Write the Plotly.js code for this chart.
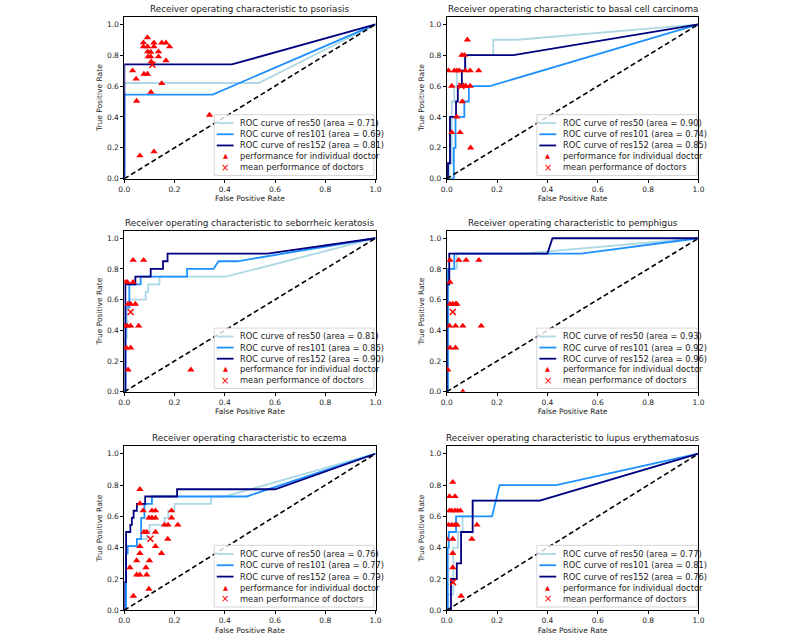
<!DOCTYPE html>
<html>
<head>
<meta charset="utf-8">
<script src="https://cdn.plot.ly/plotly-3.0.1.min.js"></script>
<style>html,body{margin:0;padding:0;background:#fff;}#chart{width:800px;height:638px;}</style>
</head>
<body>
<div id="chart"></div>
<script>
// ---------- data ----------
const diseases = ['psoriasis', 'basal cell carcinoma', 'seborrheic keratosis', 'pemphigus', 'eczema', 'lupus erythematosus'];
const aucRes50  = [0.71, 0.90, 0.81, 0.93, 0.76, 0.77];
const aucRes101 = [0.69, 0.74, 0.86, 0.92, 0.77, 0.81];
const aucRes152 = [0.81, 0.85, 0.90, 0.96, 0.79, 0.76];
const diagX = [0, 1];
const diagY = [0, 1];
const tickVals = [0, 0.2, 0.4, 0.6, 0.8, 1.0];

// psoriasis
const psoRes50X  = [0, 0, 0.535, 1];
const psoRes50Y  = [0, 0.62, 0.62, 1];
const psoRes101X = [0, 0, 0.352, 1];
const psoRes101Y = [0, 0.545, 0.545, 1];
const psoRes152X = [0, 0, 0.428, 1];
const psoRes152Y = [0, 0.74, 0.74, 1];
const psoDocX = [0.033,0.047,0.049,0.062,0.076,0.076,0.078,0.092,0.092,0.093,0.093,0.095,0.105,0.105,0.107,0.118,0.118,0.106,0.118,0.136,0.136,0.149,0.166,0.149,0.166,0.18,0.339];
const psoDocY = [0.70,0.646,0.503,0.149,0.881,0.855,0.678,0.678,0.914,0.855,0.823,0.79,0.82,0.79,0.758,0.88,0.855,0.56,0.175,0.79,0.823,0.88,0.88,0.617,0.765,0.855,0.412];
const psoMeanX = [0.112];
const psoMeanY = [0.738];

// basal cell carcinoma
const bccRes50X  = [0, 0.01, 0.01, 0.02, 0.02, 0.03, 0.03, 0.04, 0.04, 0.075, 0.075, 0.185, 0.185, 0.28, 1];
const bccRes50Y  = [0, 0, 0.1, 0.1, 0.5, 0.5, 0.6, 0.6, 0.7, 0.7, 0.8, 0.8, 0.9, 0.9, 1];
const bccRes101X = [0, 0.028, 0.028, 0.035, 0.035, 0.07, 0.07, 0.088, 0.088, 0.172, 1];
const bccRes101Y = [0, 0, 0.2, 0.2, 0.4, 0.4, 0.5, 0.5, 0.6, 0.6, 1];
const bccRes152X = [0, 0.005, 0.005, 0.013, 0.013, 0.037, 0.037, 0.044, 0.044, 0.06, 0.06, 0.073, 0.073, 0.265, 1];
const bccRes152Y = [0, 0, 0.1, 0.1, 0.4, 0.4, 0.5, 0.5, 0.6, 0.6, 0.7, 0.7, 0.8, 0.8, 1];
const bccDocX = [0.007,0.02,0.02,0.053,0.04,0.04,0.05,0.06,0.07,0.082,0.074,0.093,0.127,0.053,0.066,0.076,0.093,0.062,0.095,0.03];
const bccDocY = [0.70,0.60,0.30,0.30,0.40,0.70,0.70,0.80,0.80,0.90,0.70,0.70,0.70,0.60,0.60,0.60,0.60,0.50,0.20,0.70];
const bccMeanX = [0.058];
const bccMeanY = [0.60];

// seborrheic keratosis
const skRes50X  = [0, 0, 0.01, 0.01, 0.02, 0.02, 0.085, 0.085, 0.095, 0.095, 0.14, 0.14, 0.405, 1];
const skRes50Y  = [0, 0.35, 0.35, 0.55, 0.55, 0.6, 0.6, 0.65, 0.65, 0.7, 0.7, 0.75, 0.75, 1];
const skRes101X = [0, 0.005, 0.005, 0.02, 0.02, 0.065, 0.065, 0.25, 0.25, 0.355, 0.375, 0.45, 1];
const skRes101Y = [0, 0, 0.55, 0.55, 0.7, 0.7, 0.75, 0.75, 0.8, 0.8, 0.85, 0.85, 1];
const skRes152X = [0, 0.004, 0.004, 0.044, 0.044, 0.105, 0.105, 0.154, 0.154, 0.172, 0.172, 0.57, 1];
const skRes152Y = [0, 0, 0.7, 0.7, 0.75, 0.75, 0.8, 0.8, 0.85, 0.85, 0.9, 0.9, 1];
const skDocX = [0.035,0.077,0.004,0.012,0.035,0.015,0.025,0.044,0.002,0.012,0.025,0.057,0.008,0.025,0.015,0.265];
const skDocY = [0.857,0.857,0.714,0.714,0.714,0.571,0.571,0.571,0.429,0.429,0.429,0.429,0.286,0.286,0.143,0.143];
const skMeanX = [0.025];
const skMeanY = [0.52];

// pemphigus
const pemRes50X  = [0, 0, 0.01, 0.01, 0.04, 0.04, 0.3, 1];
const pemRes50Y  = [0, 0.7, 0.7, 0.8, 0.8, 0.9, 0.9, 1];
const pemRes101X = [0, 0.005, 0.005, 0.03, 0.03, 0.533, 1];
const pemRes101Y = [0, 0, 0.8, 0.8, 0.9, 0.9, 1];
const pemRes152X = [0, 0, 0.01, 0.01, 0.4, 0.42, 1];
const pemRes152Y = [0, 0.7, 0.7, 0.9, 0.9, 1, 1];
const pemDocX = [0.013,0.048,0.077,0.128,0.013,0.013,0.024,0.035,0.04,0.011,0.035,0.064,0.137,0.013,0.035,0.004,0.064];
const pemDocY = [0.857,0.857,0.857,0.857,0.714,0.571,0.571,0.571,0.571,0.429,0.429,0.429,0.429,0.286,0.286,0.143,0.0];
const pemMeanX = [0.024];
const pemMeanY = [0.52];

// eczema
const eczRes50X  = [0, 0.007, 0.007, 0.013, 0.013, 0.05, 0.05, 0.09, 0.09, 0.1, 0.1, 0.16, 0.16, 0.175, 0.175, 0.2, 0.2, 0.345, 0.345, 0.4, 1];
const eczRes50Y  = [0, 0, 0.364, 0.364, 0.41, 0.41, 0.455, 0.455, 0.5, 0.5, 0.545, 0.545, 0.59, 0.59, 0.636, 0.636, 0.68, 0.68, 0.727, 0.727, 1];
const eczRes101X = [0, 0.007, 0.007, 0.013, 0.013, 0.05, 0.05, 0.067, 0.067, 0.08, 0.08, 0.11, 0.11, 0.487, 1];
const eczRes101Y = [0, 0, 0.364, 0.364, 0.41, 0.41, 0.455, 0.455, 0.59, 0.59, 0.68, 0.68, 0.727, 0.727, 1];
const eczRes152X = [0, 0, 0.007, 0.007, 0.024, 0.024, 0.03, 0.03, 0.037, 0.037, 0.05, 0.05, 0.083, 0.083, 0.21, 0.21, 0.6, 1];
const eczRes152Y = [0, 0.18, 0.18, 0.5, 0.5, 0.545, 0.545, 0.59, 0.59, 0.636, 0.636, 0.68, 0.68, 0.727, 0.727, 0.773, 0.773, 1];
const eczDocX = [0.062,0.062,0.075,0.11,0.124,0.098,0.11,0.124,0.188,0.188,0.16,0.174,0.213,0.078,0.089,0.124,0.173,0.062,0.124,0.062,0.148,0.049,0.1,0.022,0.086,0.049,0.062,0.089,0.098,0.036];
const eczDocY = [0.773,0.682,0.636,0.636,0.636,0.591,0.591,0.591,0.636,0.591,0.545,0.545,0.545,0.5,0.5,0.5,0.455,0.409,0.409,0.364,0.364,0.318,0.318,0.273,0.273,0.227,0.227,0.227,0.136,0.091];
const eczMeanX = [0.104];
const eczMeanY = [0.457];

// lupus erythematosus
const lupRes50X  = [0, 0.004, 0.004, 0.026, 0.026, 0.045, 0.045, 0.063, 0.063, 0.103, 0.103, 0.37, 1];
const lupRes50Y  = [0, 0, 0.1, 0.1, 0.4, 0.4, 0.5, 0.5, 0.6, 0.6, 0.7, 0.7, 1];
const lupRes101X = [0, 0.004, 0.004, 0.008, 0.008, 0.037, 0.037, 0.18, 0.21, 0.435, 1];
const lupRes101Y = [0, 0, 0.4, 0.4, 0.5, 0.5, 0.6, 0.6, 0.8, 0.8, 1];
const lupRes152X = [0, 0.017, 0.017, 0.04, 0.04, 0.057, 0.057, 0.103, 0.103, 0.37, 1];
const lupRes152Y = [0, 0, 0.2, 0.2, 0.3, 0.3, 0.5, 0.5, 0.7, 0.7, 1];
const lupDocX = [0.024,0.011,0.033,0.011,0.02,0.033,0.043,0.054,0.007,0.02,0.033,0.041,0.12,0.0,0.024,0.1,0.024,0.024,0.057];
const lupDocY = [0.818,0.727,0.727,0.636,0.636,0.636,0.636,0.636,0.545,0.545,0.545,0.545,0.545,0.455,0.455,0.455,0.364,0.273,0.091];
const lupMeanX = [0.025];
const lupMeanY = [0.18];

// ---------- build ----------
const panels = [
  {r50:[psoRes50X,psoRes50Y], r101:[psoRes101X,psoRes101Y], r152:[psoRes152X,psoRes152Y], doc:[psoDocX,psoDocY], mean:[psoMeanX,psoMeanY]},
  {r50:[bccRes50X,bccRes50Y], r101:[bccRes101X,bccRes101Y], r152:[bccRes152X,bccRes152Y], doc:[bccDocX,bccDocY], mean:[bccMeanX,bccMeanY]},
  {r50:[skRes50X,skRes50Y], r101:[skRes101X,skRes101Y], r152:[skRes152X,skRes152Y], doc:[skDocX,skDocY], mean:[skMeanX,skMeanY]},
  {r50:[pemRes50X,pemRes50Y], r101:[pemRes101X,pemRes101Y], r152:[pemRes152X,pemRes152Y], doc:[pemDocX,pemDocY], mean:[pemMeanX,pemMeanY]},
  {r50:[eczRes50X,eczRes50Y], r101:[eczRes101X,eczRes101Y], r152:[eczRes152X,eczRes152Y], doc:[eczDocX,eczDocY], mean:[eczMeanX,eczMeanY]},
  {r50:[lupRes50X,lupRes50Y], r101:[lupRes101X,lupRes101Y], r152:[lupRes152X,lupRes152Y], doc:[lupDocX,lupDocY], mean:[lupMeanX,lupMeanY]}
];

const C50 = '#add8e6', C101 = '#1e90ff', C152 = '#000080', CRED = '#ff0000';
const FONT = 'DejaVu Sans, sans-serif';
const colX = [[0.1554, 0.4694], [0.5584, 0.8731]];
const rowY = [[0.7199, 0.974], [0.386, 0.6386], [0.0434, 0.3011]];

const data = [];
const layout = {
  width: 800, height: 638,
  margin: {l: 0, r: 0, t: 0, b: 0},
  paper_bgcolor: '#fff', plot_bgcolor: '#fff',
  showlegend: false,
  font: {family: FONT, color: '#222'},
  shapes: [], annotations: []
};

panels.forEach((p, i) => {
  const n = i + 1;
  const s = n === 1 ? '' : String(n);
  const xa = 'x' + s, ya = 'y' + s;
  const col = i % 2, row = Math.floor(i / 2);
  const labels = [
    'ROC curve of res50 (area = ' + aucRes50[i].toFixed(2) + ')',
    'ROC curve of res101 (area = ' + aucRes101[i].toFixed(2) + ')',
    'ROC curve of res152 (area = ' + aucRes152[i].toFixed(2) + ')',
    'performance for individual doctor',
    'mean performance of doctors'
  ];
  data.push({x: p.r50[0], y: p.r50[1], xaxis: xa, yaxis: ya, mode: 'lines', name: labels[0], line: {color: C50, width: 1.8}});
  data.push({x: p.r101[0], y: p.r101[1], xaxis: xa, yaxis: ya, mode: 'lines', name: labels[1], line: {color: C101, width: 1.8}});
  data.push({x: p.r152[0], y: p.r152[1], xaxis: xa, yaxis: ya, mode: 'lines', name: labels[2], line: {color: C152, width: 1.8}});
  data.push({x: diagX, y: diagY, xaxis: xa, yaxis: ya, mode: 'lines', name: 'chance', line: {color: '#000', width: 1.6, dash: '5px,3px'}});
  data.push({x: p.doc[0], y: p.doc[1], xaxis: xa, yaxis: ya, mode: 'markers', name: labels[3], marker: {symbol: 'triangle-up', size: 6.5, color: CRED}});
  data.push({x: p.mean[0], y: p.mean[1], xaxis: xa, yaxis: ya, mode: 'markers', name: labels[4], marker: {symbol: 'x-thin', size: 6, color: CRED, line: {color: CRED, width: 1.5}}});

  const common = {
    showline: true, mirror: true, linecolor: '#000', linewidth: 1,
    ticks: 'outside', ticklen: 3, tickwidth: 1, tickcolor: '#000',
    tickvals: tickVals, tickformat: '.1f',
    showgrid: false, zeroline: false,
    tickfont: {family: FONT, size: 7.5, color: '#222'}
  };
  layout['xaxis' + s] = Object.assign({}, common, {
    domain: colX[col], anchor: ya, range: [0, 1],
    title: {text: 'False Positive Rate', font: {family: FONT, size: 7.5, color: '#222'}, standoff: 3}
  });
  layout['yaxis' + s] = Object.assign({}, common, {
    domain: rowY[row], anchor: xa, range: [0, 1.05],
    title: {text: 'True Positive Rate', font: {family: FONT, size: 7.5, color: '#222'}, standoff: 3}
  });

  // subplot title
  layout.annotations.push({
    xref: xa + ' domain', yref: ya + ' domain', x: 0.5, y: 1, xanchor: 'center', yanchor: 'bottom', yshift: 1,
    text: 'Receiver operating characteristic to ' + diseases[i], showarrow: false,
    font: {family: FONT, size: 8.8, color: '#222'}
  });

  // legend box
  const xr = xa + ' domain', yr = ya + ' domain';
  layout.shapes.push({type: 'rect', xref: xr, yref: yr, x0: 0.358, x1: 0.994, y0: 0.02, y1: 0.395,
    line: {color: '#cccccc', width: 0.8}, fillcolor: 'rgba(255,255,255,0.8)', layer: 'above'});
  const rowsY = [0.343, 0.274, 0.205, 0.138, 0.07];
  const lineCols = [C50, C101, C152];
  for (let k = 0; k < 3; k++) {
    layout.shapes.push({type: 'line', xref: xr, yref: yr, x0: 0.368, x1: 0.435, y0: rowsY[k], y1: rowsY[k],
      line: {color: lineCols[k], width: 1.8}, layer: 'above'});
  }
  layout.annotations.push({xref: xr, yref: yr, x: 0.401, y: rowsY[3], xanchor: 'center', yanchor: 'middle',
    text: '▲', showarrow: false, font: {family: FONT, size: 6.5, color: CRED}});
  layout.annotations.push({xref: xr, yref: yr, x: 0.401, y: rowsY[4], xanchor: 'center', yanchor: 'middle',
    text: '×', showarrow: false, font: {family: FONT, size: 10, color: CRED}});
  labels.forEach((t, k) => {
    layout.annotations.push({xref: xr, yref: yr, x: 0.452, y: rowsY[k], xanchor: 'left', yanchor: 'middle',
      text: t, showarrow: false, font: {family: FONT, size: 8.3, color: '#222'}});
  });
});

Plotly.newPlot('chart', data, layout, {staticPlot: true, displayModeBar: false});
</script>
</body>
</html>
